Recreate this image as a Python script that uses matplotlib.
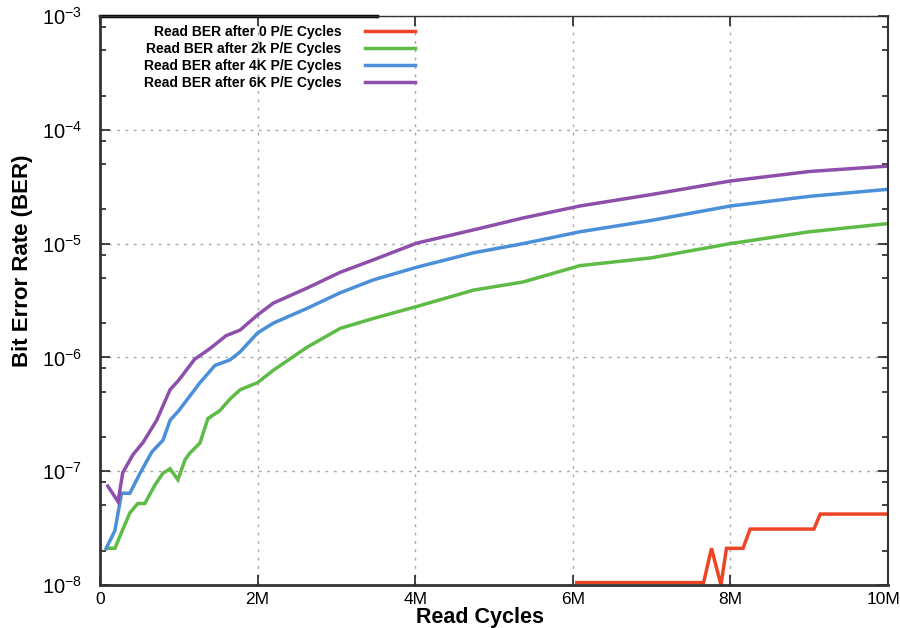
import math
import matplotlib
matplotlib.use("Agg")
import matplotlib.pyplot as plt
import matplotlib.transforms as mtransforms
from matplotlib.ticker import FixedLocator, LogLocator, FuncFormatter, NullFormatter

plt.rcParams['font.family'] = ['Liberation Sans', 'DejaVu Sans']
plt.rcParams['mathtext.fontset'] = 'custom'
plt.rcParams['mathtext.rm'] = 'Liberation Sans'
plt.rcParams['axes.unicode_minus'] = False

# === Data (read cycles in millions) ===
x_0 = [6.05, 7.66, 7.76, 7.88, 7.95, 8.16, 8.25, 9.06, 9.14, 10.0]
y_0 = [1.05e-8, 1.05e-8, 2.1e-8, 1.0e-8, 2.1e-8, 2.1e-8, 3.1e-8, 3.1e-8, 4.2e-8, 4.2e-8]

x_2k = [0.085, 0.19, 0.275, 0.38, 0.48, 0.57, 0.70, 0.80, 0.89, 0.99, 1.08, 1.14,
        1.27, 1.37, 1.52, 1.65, 1.78, 2.0, 2.2, 2.63, 3.05, 3.47, 4.02, 4.74,
        5.37, 6.09, 7.0, 8.0, 9.0, 10.0]
y_2k = [2.1e-8, 2.1e-8, 2.9e-8, 4.3e-8, 5.2e-8, 5.2e-8, 7.6e-8, 9.6e-8, 1.05e-7,
        8.4e-8, 1.26e-7, 1.44e-7, 1.77e-7, 2.9e-7, 3.4e-7, 4.3e-7, 5.2e-7, 6.0e-7,
        7.7e-7, 1.23e-6, 1.8e-6, 2.2e-6, 2.8e-6, 3.9e-6, 4.6e-6, 6.4e-6, 7.5e-6,
        1.0e-5, 1.27e-5, 1.5e-5]

x_4k = [0.08, 0.19, 0.275, 0.38, 0.51, 0.66, 0.80, 0.89, 1.0, 1.27, 1.46, 1.65,
        1.78, 2.0, 2.2, 2.63, 3.05, 3.47, 4.02, 4.74, 5.37, 6.09, 7.0, 8.0, 9.0, 10.0]
y_4k = [2.1e-8, 3.0e-8, 6.4e-8, 6.4e-8, 9.6e-8, 1.48e-7, 1.87e-7, 2.8e-7, 3.4e-7,
        6.0e-7, 8.5e-7, 9.5e-7, 1.12e-6, 1.64e-6, 2.0e-6, 2.7e-6, 3.7e-6, 4.8e-6,
        6.2e-6, 8.3e-6, 1.0e-5, 1.27e-5, 1.6e-5, 2.14e-5, 2.6e-5, 3.0e-5]

x_6k = [0.10, 0.23, 0.29, 0.42, 0.55, 0.72, 0.89, 1.0, 1.2, 1.4, 1.6, 1.78, 2.0,
        2.2, 2.63, 3.05, 3.47, 4.02, 4.74, 5.37, 6.09, 7.0, 8.0, 9.0, 10.0]
y_6k = [7.4e-8, 5.4e-8, 9.7e-8, 1.4e-7, 1.8e-7, 2.8e-7, 5.2e-7, 6.3e-7, 9.6e-7,
        1.2e-6, 1.55e-6, 1.74e-6, 2.36e-6, 3.0e-6, 4.07e-6, 5.6e-6, 7.2e-6, 1.01e-5,
        1.32e-5, 1.68e-5, 2.14e-5, 2.7e-5, 3.55e-5, 4.3e-5, 4.8e-5]

labels = ['Read BER after 0 P/E Cycles', 'Read BER after 2k P/E Cycles',
          'Read BER after 4K P/E Cycles', 'Read BER after 6K P/E Cycles']
x_ticks = [0, 2, 4, 6, 8, 10]
x_ticklabels = ['0', '2M', '4M', '6M', '8M', '10M']
colors = ['#ee4426', '#5dbb46', '#4a8fd8', '#8e4fab']

# === Plot ===
fig = plt.figure(figsize=(9, 6.28), dpi=100)
ax = fig.add_axes([0.111, 0.0685, 0.8757, 0.906])

for xs, ys, lab, c in zip([x_0, x_2k, x_4k, x_6k], [y_0, y_2k, y_4k, y_6k], labels, colors):
    ax.plot(xs, ys, color=c, lw=2.5, label=lab, solid_joinstyle='miter')

ax.set_yscale('log')
ax.set_xlim(0, 10)
ax.set_ylim(1e-8, 1e-3)

ax.xaxis.set_major_locator(FixedLocator(x_ticks))
ax.set_xticklabels(x_ticklabels)
ax.yaxis.set_major_locator(LogLocator(base=10, numticks=10))
ax.yaxis.set_minor_locator(LogLocator(base=10, subs=[2, 5, 8], numticks=10))
ax.yaxis.set_minor_formatter(NullFormatter())
ax.yaxis.set_major_formatter(FuncFormatter(
    lambda v, p: r'$\mathregular{10^{%d}}$' % round(math.log10(v))))

ax.tick_params(axis='both', which='both', direction='in', colors='#222222',
               labelcolor='black', right=True, top=True)
ax.tick_params(axis='both', which='major', length=7, width=1.2)
ax.tick_params(axis='x', which='major', labelsize=12.5, pad=5)
ax.tick_params(axis='y', which='major', labelsize=14.5, pad=13)
ax.tick_params(axis='y', which='minor', length=4, width=1.2)

# nudge the last x tick label so it stays inside the figure
last = ax.get_xticklabels()[-1]
last.set_transform(last.get_transform() +
                   mtransforms.ScaledTranslation(-5 / 100, 0, fig.dpi_scale_trans))

ax.grid(True, which='major', color='#a8a8a8', linestyle=(0, (2, 4)), linewidth=1)

for side, w in [('left', 2), ('bottom', 2), ('right', 1.5), ('top', 1)]:
    ax.spines[side].set_linewidth(w)
    ax.spines[side].set_color('#333333')

# thick black segment along the left part of the top border
ax.axhline(1e-3, xmin=0, xmax=0.351, color='black', lw=2.5, clip_on=False)

ax.set_xlabel('Read Cycles', fontsize=15.5, fontweight='bold')
ax.xaxis.set_label_coords(0.482, -0.039, transform=ax.transAxes)
ax.set_ylabel('Bit Error Rate (BER)', fontsize=16, fontweight='bold')
ax.yaxis.set_label_coords(-0.085, 0.57, transform=ax.transAxes)

ax.legend(loc='upper right', bbox_to_anchor=(415 / 900, 1 - 25 / 628),
          bbox_transform=fig.transFigure, markerfirst=False, frameon=False,
          prop={'weight': 'bold', 'size': 10}, handlelength=3.6,
          handletextpad=1.7, labelspacing=0.22, borderpad=0, borderaxespad=0)

fig.savefig('out.png', dpi=100)
